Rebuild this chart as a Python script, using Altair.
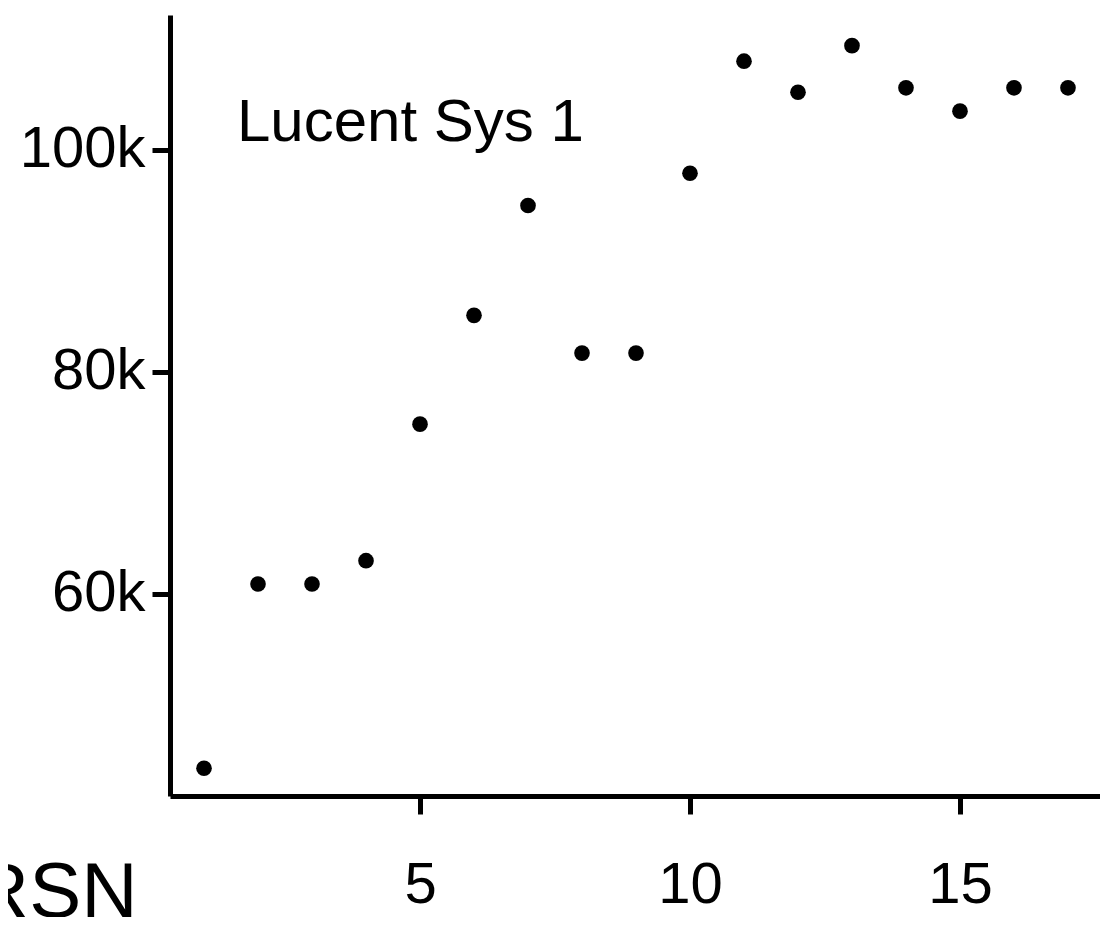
import altair as alt
import pandas as pd

rsn = list(range(1, 18))
values = [44300, 60900, 60900, 63000, 75300, 85100, 95000, 81700, 81700,
          97900, 108000, 105200, 109400, 105600, 103500, 105600, 105600]
x_ticks = [5, 10, 15]
y_ticks = [60000, 80000, 100000]
label_text = ["Lucent Sys 1"]
label_x = [1.61]
label_y = [100800]

df = pd.DataFrame({"RSN": rsn, "value": values})
lab = pd.DataFrame({"text": label_text, "x": label_x, "y": label_y})

FONT = "Liberation Sans"
xs = alt.Scale(domain=[0.37, 17.593], nice=False, zero=False)
ys = alt.Scale(domain=[41800, 112160], nice=False, zero=False)

points = alt.Chart(df).mark_circle(size=245, color="black", opacity=1).encode(
    x=alt.X("RSN:Q", scale=xs,
            axis=alt.Axis(values=x_ticks, title="RSN", titleFontSize=78,
                          titleFont=FONT, titleFontWeight="normal",
                          titleAlign="right", titleAnchor="start",
                          titleBaseline="alphabetic",
                          titleX=-33, titleY=120, labelBaseline="top",
                          labelPadding=42)),
    y=alt.Y("value:Q", scale=ys,
            axis=alt.Axis(values=y_ticks, title=None,
                          labelExpr="datum.value/1000 + 'k'",
                          labelPadding=7)),
)

text = alt.Chart(lab).mark_text(font=FONT, fontSize=60, align="left",
                                baseline="alphabetic", color="black").encode(
    x=alt.X("x:Q", scale=xs),
    y=alt.Y("y:Q", scale=ys),
    text="text:N",
)

chart = (points + text).properties(
    width=930, height=781,
    autosize=alt.AutoSizeParams(type="none"),
    padding={"left": 162, "top": 7, "right": 0, "bottom": 121},
).configure_view(stroke=None).configure_axis(
    grid=False, domainColor="black", domainWidth=5, tickColor="black",
    tickWidth=5, tickSize=18, labelFont=FONT, labelFontSize=58,
    labelColor="black", titleColor="black",
)

chart.save("out.html", embed_options={"renderer": "svg", "actions": False})
